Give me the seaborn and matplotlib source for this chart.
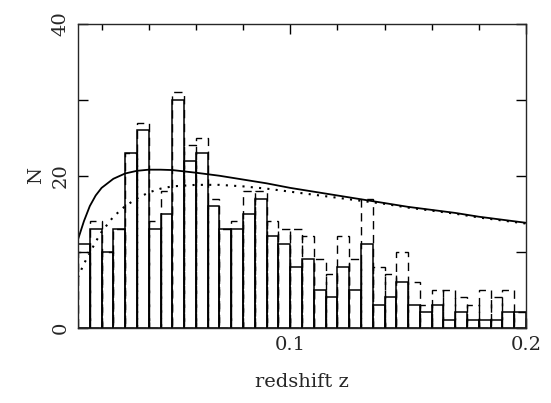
import numpy as np
import pandas as pd
import matplotlib
matplotlib.use("Agg")
import matplotlib.pyplot as plt
import seaborn as sns
from matplotlib.ticker import MultipleLocator, FixedLocator, FixedFormatter

# ---- data ----
bin_edges = [round(0.01 + 0.005 * i, 4) for i in range(39)]   # 38 bins of width 0.005
n_solid = [11, 13, 10, 13, 23, 26, 13, 15, 30, 22, 23, 16, 13, 13, 15, 17, 12, 11, 8,
           9, 5, 4, 8, 5, 11, 3, 4, 6, 3, 2, 3, 1, 2, 1, 1, 1, 2, 2]
n_dashed = [10, 14, 10, 13, 23, 27, 14, 18, 31, 24, 25, 17, 13, 14, 18, 18, 14, 13, 13,
            12, 9, 7, 12, 9, 17, 8, 7, 10, 6, 3, 5, 5, 4, 3, 5, 4, 5, 2]

z_model = [0.010, 0.0125, 0.015, 0.0175, 0.020, 0.025, 0.030, 0.035, 0.040, 0.045, 0.050,
           0.060, 0.070, 0.080, 0.090, 0.100, 0.110, 0.120, 0.130, 0.140, 0.150, 0.160,
           0.170, 0.180, 0.190, 0.200]
model_solid = [11.6, 14.0, 16.0, 17.4, 18.4, 19.6, 20.3, 20.65, 20.8, 20.8, 20.75,
               20.4, 20.0, 19.5, 19.0, 18.4, 17.9, 17.4, 16.9, 16.4, 15.9, 15.5,
               15.1, 14.6, 14.2, 13.8]
model_dotted = [6.6, 8.4, 9.8, 11.3, 12.6, 14.6, 16.0, 17.0, 17.8, 18.3, 18.6,
                18.8, 18.8, 18.6, 18.3, 17.9, 17.5, 17.1, 16.7, 16.3, 15.8, 15.4,
                15.0, 14.5, 14.1, 13.7]

x_major = [0.1, 0.2]
x_major_labels = ["0.1", "0.2"]
y_major = [0, 10, 20, 30, 40]
y_major_labels = ["0", "", "20", "", "40"]

edges_arr = np.array(bin_edges)
bin_centers = (edges_arr[:-1] + edges_arr[1:]) / 2
hist_df = pd.DataFrame({"z": bin_centers, "solid": n_solid, "dashed": n_dashed})
model_df = pd.DataFrame({"z": z_model, "solid": model_solid, "dotted": model_dotted})

sns.set_style("ticks")
plt.rcParams["font.family"] = ["DejaVu Serif"]
plt.rcParams["axes.linewidth"] = 1.0

fig = plt.figure(figsize=(5.51, 4.03), dpi=100)
ax = fig.add_axes([78 / 551, 1 - 327.5 / 403, 448 / 551, 303.5 / 403])

sns.histplot(data=hist_df, x="z", weights="dashed", bins=bin_edges, fill=False,
             element="bars", color="black", linewidth=1.0, linestyle=(0, (6, 4)), ax=ax)
sns.histplot(data=hist_df, x="z", weights="solid", bins=bin_edges, fill=False,
             element="bars", color="black", linewidth=1.1, ax=ax)
sns.lineplot(data=model_df, x="z", y="solid", color="black", linewidth=1.3, ax=ax)
sns.lineplot(data=model_df, x="z", y="dotted", color="black", linewidth=1.5,
             linestyle=(0, (1, 3)), ax=ax)

ax.set_xlim(0.01, 0.2)
ax.set_ylim(0, 40)
ax.xaxis.set_major_locator(FixedLocator(x_major))
ax.xaxis.set_major_formatter(FixedFormatter(x_major_labels))
ax.xaxis.set_minor_locator(MultipleLocator(0.02))
ax.yaxis.set_major_locator(FixedLocator(y_major))
ax.yaxis.set_major_formatter(FixedFormatter(y_major_labels))

ax.tick_params(which="both", direction="in", top=True, right=True, color="black")
ax.tick_params(which="major", length=7, width=1.0, labelsize=14, pad=6)
ax.tick_params(which="minor", length=4, width=1.0)
ax.tick_params(axis="y", labelrotation=90)
for lab in ax.get_yticklabels():
    lab.set_va("center")

ax.set_xlabel("redshift z", fontsize=14, labelpad=14)
ax.set_ylabel("N", fontsize=14, labelpad=5)

fig.savefig("out.png", dpi=100)
